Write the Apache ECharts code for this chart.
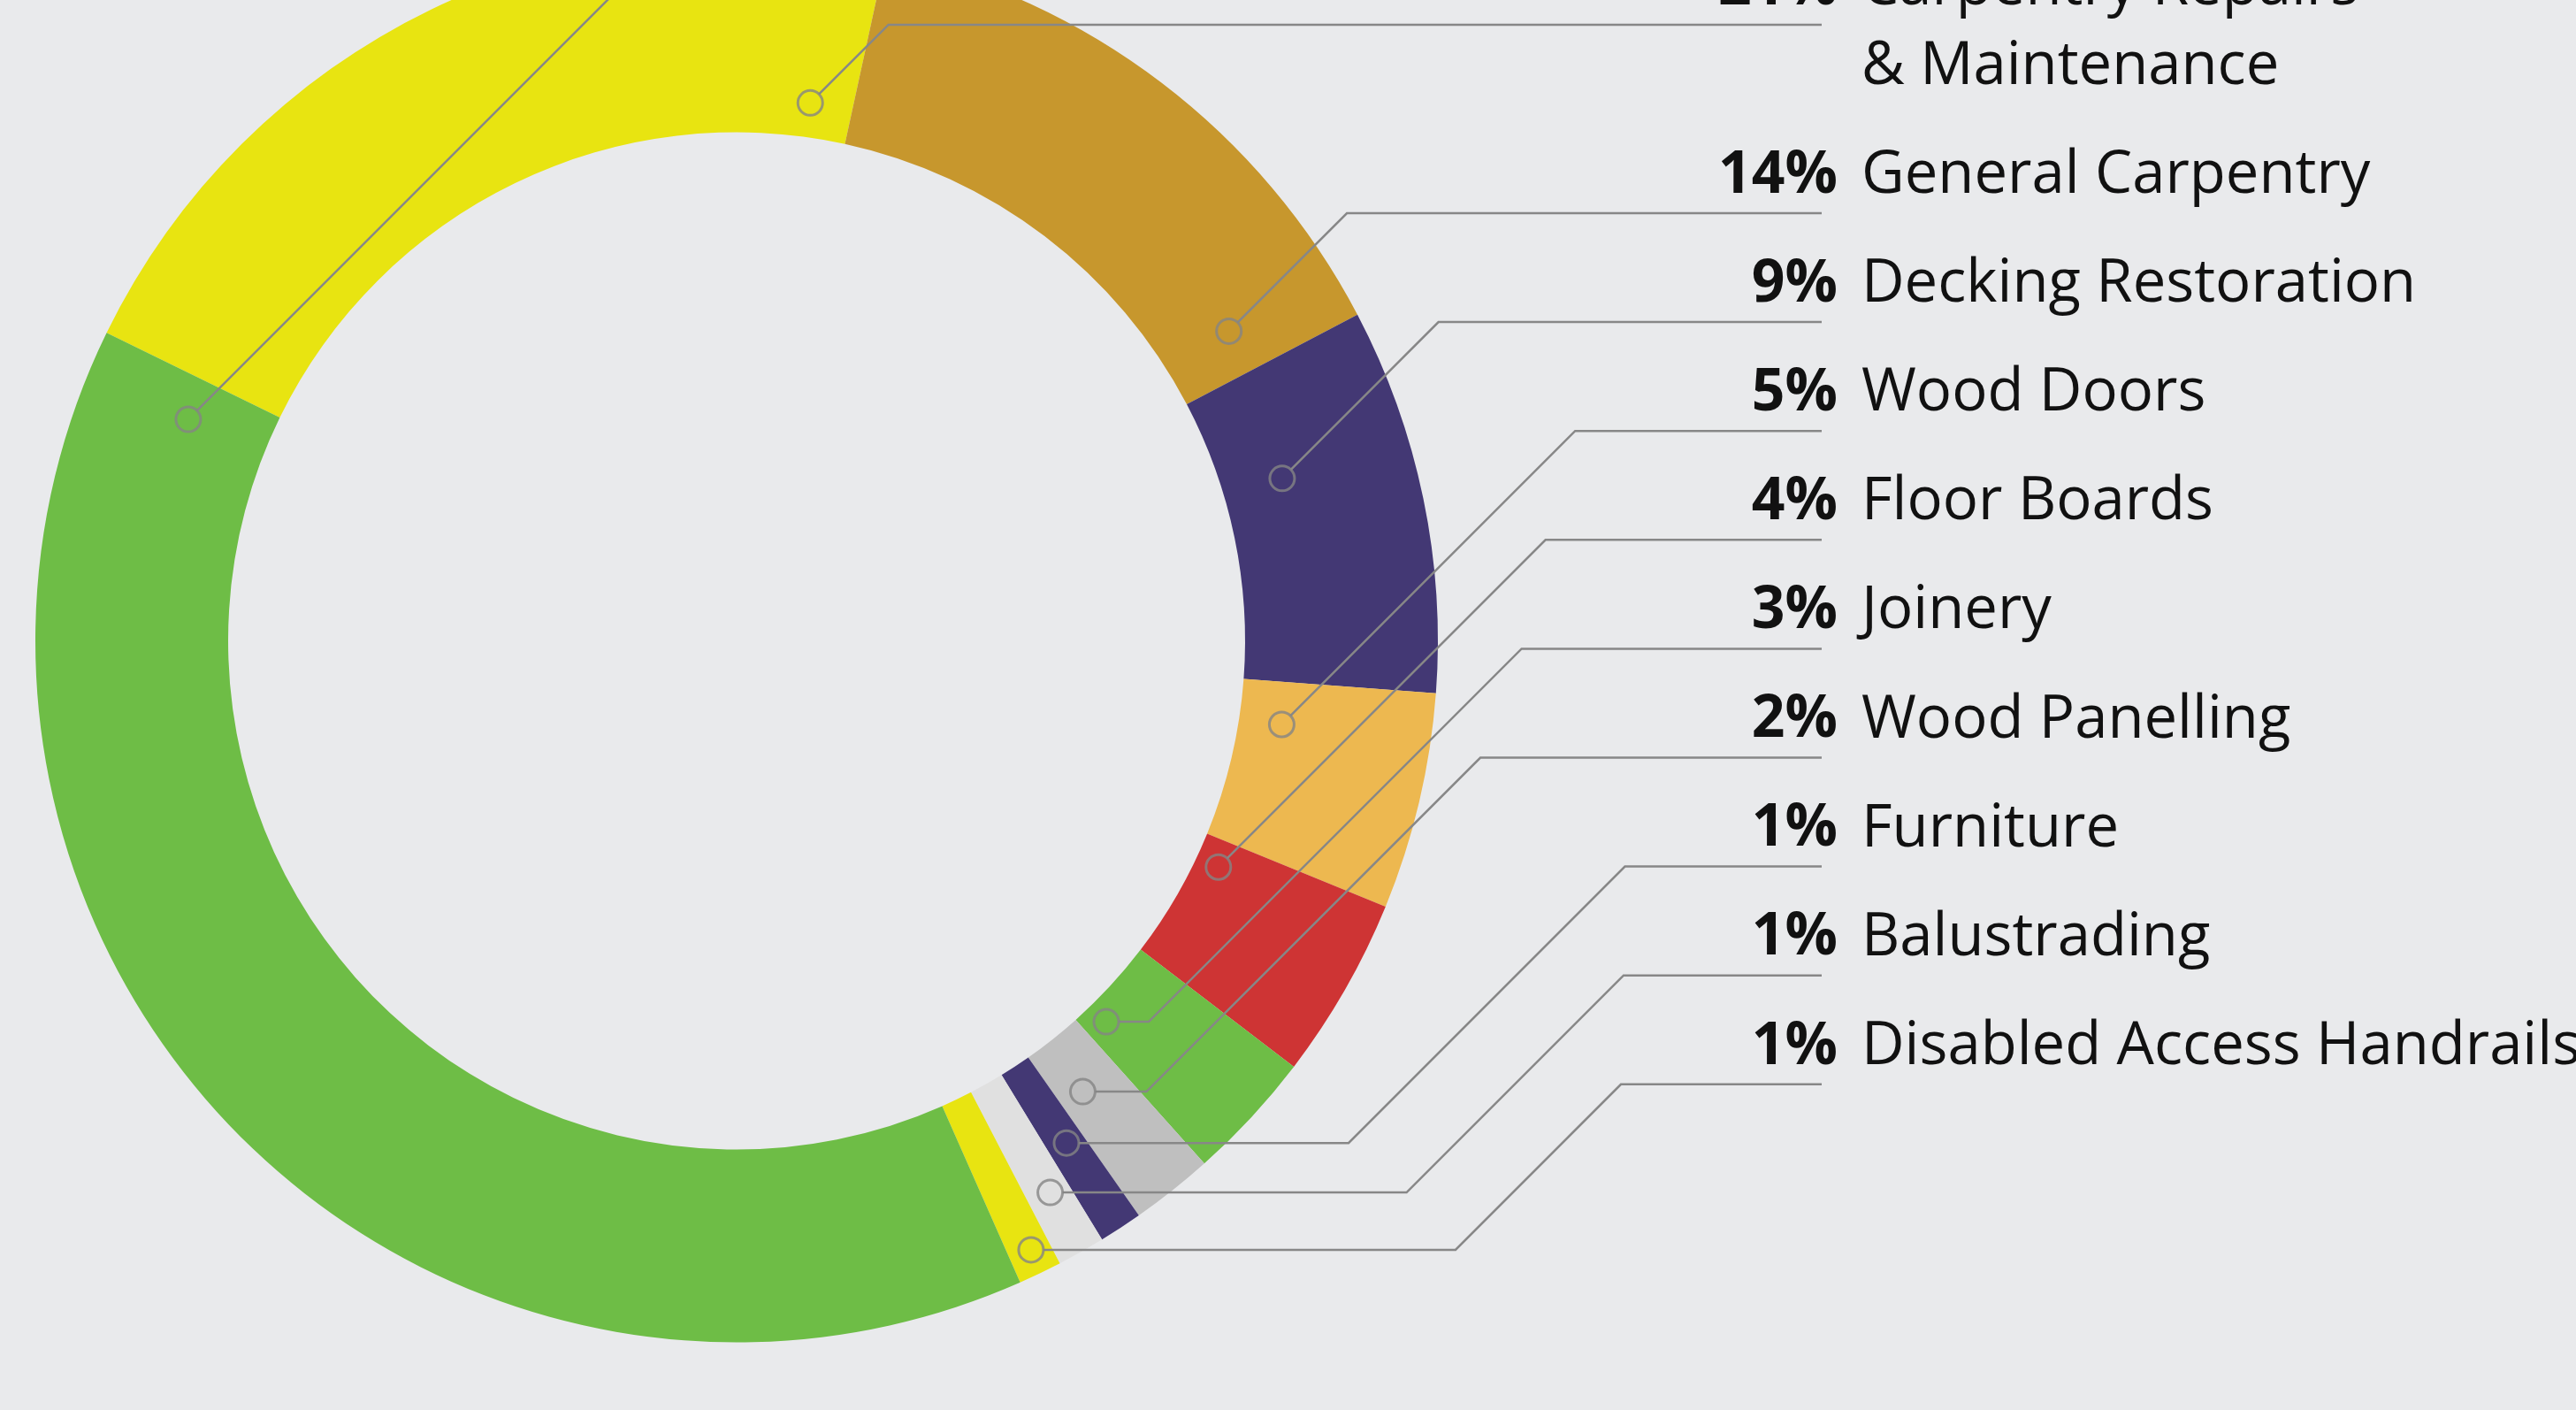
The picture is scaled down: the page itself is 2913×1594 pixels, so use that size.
<!DOCTYPE html>
<html>
<head>
<meta charset="utf-8">
<title>Carpentry work mix</title>
<script src="https://cdn.jsdelivr.net/npm/echarts@6/dist/echarts.min.js"></script>
<style>
  html, body { margin: 0; padding: 0; background: #e9eaec; }
  #chart { width: 2913px; height: 1594px; }
</style>
</head>
<body>
<div id="chart"></div>
<script>
// share of work, percent, clockwise starting at the big yellow slice
var categories = [
    'Carpentry Repairs\n& Maintenance',
    'General Carpentry',
    'Decking Restoration',
    'Wood Doors',
    'Floor Boards',
    'Joinery',
    'Wood Panelling',
    'Furniture',
    'Balustrading',
    'Disabled Access Handrails',
    'Other Services'
];
var shares = [21.2, 13.9, 8.9, 5.0, 4.2, 3.0, 1.9, 1.0, 1.1, 1.0, 38.9];
var sliceColors = ['#e8e411', '#c7972d', '#433874', '#edb850', '#ce3434', '#6ebd46',
    '#bfbfbf', '#433874', '#e0e0e0', '#e8e411', '#6ebd46'];

// where the little ring marker sits inside each slice
var markerAlong = [0.941, 0.911, 0.348, 0.246, 0.19, 0.785, 0.63, 0.47, 0.45, 0.455, 0.971]; // of slice angle
var markerDepth = [0.178, 0.379, 0.315, 0.223, 0.123, 0.115, 0.31, 0.478, 0.653, 0.87, 0.43]; // of ring width
var markerRun = [0, 0, 0, 0, 0, 48, 72, 319, 403, 480, 0]; // flat run before the 45deg leg, px

var CX = 833, CY = 724.5, R_IN = 575, R_OUT = 793;
var START = -63.95;          // clockwise from 12 o'clock
var MARK_R = 14;
var LINE_END = 2060;
var PCT_RIGHT = 2078, NAME_LEFT = 2105;
var ROW_BOTTOM = 1225.8, ROW_STEP = 123.1, LINE_STEP = 90, TEXT_DROP = 87;

var total = shares.reduce(function (s, v) { return s + v; }, 0);

// marker positions (deg clockwise from top, px radius)
var anchors = [];
var acc = START;
for (var i = 0; i < shares.length; i++) {
    var span = shares[i] / total * 360;
    var ang = acc + markerAlong[i] * span;
    var r = R_IN + markerDepth[i] * (R_OUT - R_IN);
    var rad = ang * Math.PI / 180;
    anchors.push({
        angle: ((ang % 360) + 360) % 360,
        r: r,
        x: CX + r * Math.sin(rad),
        y: CY - r * Math.cos(rad)
    });
    acc += span;
}

// label rows: the last slice sits on top, then the rest in order
var order = [shares.length - 1];
for (i = 0; i < shares.length - 1; i++) order.push(i);
var rowY = [];
var y = ROW_BOTTOM;
for (var k = order.length - 1; k >= 0; k--) {
    var idx = order[k];
    if (k < order.length - 1) {
        y -= ROW_STEP + (categories[idx].split('\n').length - 1) * LINE_STEP;
    }
    rowY[idx] = y;
}

function leaderPoints(i) {
    var a = anchors[i], ly = rowY[i];
    var pts = [];
    if (markerRun[i] > 0) {
        var kx = a.x + markerRun[i];
        pts.push([a.x + MARK_R, a.y]);
        pts.push([kx, a.y]);
        pts.push([kx + (a.y - ly), ly]);
    } else {
        pts.push([a.x + MARK_R * Math.SQRT1_2, a.y - MARK_R * Math.SQRT1_2]);
        pts.push([a.x + (a.y - ly), ly]);
    }
    pts.push([LINE_END, ly]);
    return pts;
}

var pieData = categories.map(function (c, i) {
    return { name: c, value: shares[i], itemStyle: { color: sliceColors[i] } };
});
var overlayData = categories.map(function (c, i) {
    return { name: c, value: shares[i], itemStyle: { color: 'transparent' } };
});
var markers = anchors.map(function (a) { return [a.r, a.angle]; });

var myChart = echarts.init(document.getElementById('chart'));
var option = {
    backgroundColor: '#e9eaec',
    animation: false,
    polar: { center: [CX, CY], radius: R_OUT },
    angleAxis: { type: 'value', min: 0, max: 360, startAngle: 90, clockwise: true, show: false },
    radiusAxis: { type: 'value', min: 0, max: R_OUT, show: false },
    series: [
        {
            // coloured ring + category names
            type: 'pie',
            z: 2,
            center: [CX, CY],
            radius: [R_IN, R_OUT],
            startAngle: 90 - START,
            clockwise: true,
            avoidLabelOverlap: false,
            silent: true,
            itemStyle: { borderWidth: 0 },
            data: pieData,
            label: {
                show: true,
                position: 'outside',
                formatter: '{b}',
                fontFamily: 'Open Sans',
                fontSize: 67,
                lineHeight: LINE_STEP,
                color: '#111111'
            },
            labelLine: { show: false },
            labelLayout: function (p) {
                return {
                    x: NAME_LEFT, y: rowY[p.dataIndex] - TEXT_DROP,
                    align: 'left', verticalAlign: 'top'
                };
            }
        },
        {
            // invisible copy on top: percentages + leader lines over the ring
            type: 'pie',
            z: 3,
            center: [CX, CY],
            radius: [R_IN, R_OUT],
            startAngle: 90 - START,
            clockwise: true,
            avoidLabelOverlap: false,
            silent: true,
            data: overlayData,
            label: {
                show: true,
                position: 'outside',
                formatter: function (p) { return Math.round(p.value) + '%'; },
                fontFamily: 'Open Sans',
                fontWeight: 'bold',
                fontSize: 66,
                lineHeight: LINE_STEP,
                color: '#111111'
            },
            labelLine: { show: true, lineStyle: { color: '#878787', width: 2.5 } },
            labelLayout: function (p) {
                var i = p.dataIndex;
                return {
                    x: PCT_RIGHT, y: rowY[i] - TEXT_DROP,
                    align: 'right', verticalAlign: 'top',
                    labelLinePoints: leaderPoints(i)
                };
            }
        },
        {
            type: 'scatter',
            z: 4,
            coordinateSystem: 'polar',
            symbol: 'circle',
            symbolSize: 28,
            silent: true,
            itemStyle: { color: 'transparent', borderColor: '#858585', borderWidth: 3 },
            data: markers
        }
    ]
};
myChart.setOption(option);
</script>
</body>
</html>
